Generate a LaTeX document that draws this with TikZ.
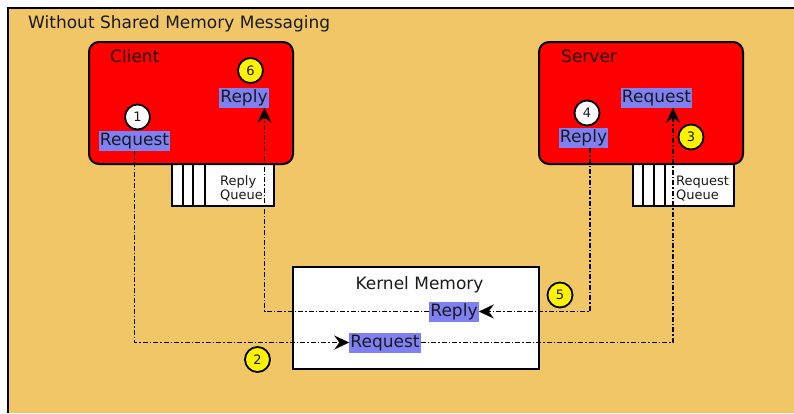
\documentclass[tikz,border=0pt]{standalone}
\usepackage{fontspec}
\setmainfont{DejaVu Sans}
\usetikzlibrary{arrows.meta}

\definecolor{panelbg}{RGB}{240,198,102}
\definecolor{procred}{RGB}{255,0,0}
\definecolor{hilite}{RGB}{128,128,245}
\definecolor{ink}{RGB}{26,26,26}

\tikzset{
  bigfont/.style={font=\fontsize{17}{20}\selectfont},
  smallfont/.style={font=\fontsize{13}{15}\selectfont},
  plain/.style={text=ink, inner sep=0pt},
  process/.style={draw=black, line width=2pt, fill=procred, rounded corners=10pt},
  msg/.style={fill=hilite, text=ink, bigfont, inner xsep=1pt, inner ysep=1.5pt,
              text height=13pt, text depth=4pt},
  stepnum/.style={circle, draw=black, line width=1.8pt, minimum size=25pt,
                  inner sep=0pt, font=\fontsize{13}{15}\selectfont, text=ink},
  queuebox/.style={draw=black, line width=1.5pt, fill=white},
  flow/.style={draw=black, line width=1.8pt,
               dash pattern=on 5pt off 2pt on 1.5pt off 2pt},
  tip/.style={-{Stealth[length=15pt,width=14pt,inset=5pt]}}
}

\begin{document}
\begin{tikzpicture}[x=1pt,y=-1pt]
\useasboundingbox (0,0) rectangle (794,413);

% panel
\fill[panelbg] (8,8) rectangle (794,413);
\draw[line width=2pt] (8,413) -- (8,8) -- (794,8);
\node[plain, bigfont, anchor=base west] (title) at (28,28) {Without Shared Memory Messaging};

% message queues below the processes
\draw[queuebox] (172,164) rectangle (274,206);
\draw[line width=1.5pt] (183,164) -- (183,206) (193,164) -- (193,206) (205,164) -- (205,206);
\node[plain, smallfont, anchor=base west] (rq1) at (220,185) {Reply};
\node[plain, smallfont, anchor=base west] (rq2) at (220,199) {Queue};

\draw[queuebox] (633,164) rectangle (734,206);
\draw[line width=1.5pt] (643,164) -- (643,206) (654,164) -- (654,206) (665,164) -- (665,206);
\node[plain, smallfont, anchor=base west] (sq1) at (676,185) {Request};
\node[plain, smallfont, anchor=base west] (sq2) at (676,199) {Queue};

% processes
\draw[process] (89,42) rectangle (293,164);
\node[plain, bigfont, anchor=base west] (clientlbl) at (110,62) {Client};
\draw[process] (539,42) rectangle (743,164);
\node[plain, bigfont, anchor=base west] (serverlbl) at (561,62) {Server};

% kernel memory
\draw[draw=black, line width=2pt, fill=white] (293,267) rectangle (539,369);
\node[plain, bigfont, anchor=base] (kernellbl) at (419.5,289) {Kernel Memory};

% messages
\node[msg] (creq) at (134.5,141) {Request};
\node[msg] (crep) at (244,97.5) {Reply};
\node[msg] (sreq) at (656.5,97.5) {Request};
\node[msg] (srep) at (583.5,138) {Reply};
\node[msg] (kreq) at (385,342.5) {Request};
\node[msg] (krep) at (454,311.5) {Reply};

% message flow
\draw[flow, tip] (creq.south) |- (kreq.west);
\draw[flow, tip] (kreq.east) -| ([xshift=16.5pt]sreq.south);
\draw[flow, tip] ([xshift=6.5pt]srep.south) |- (krep.east);
\draw[flow, tip] (krep.west) -| ([xshift=20.5pt]crep.south);

% step numbers
\node[stepnum, fill=white]  (s1) at (137.5,117) {1};
\node[stepnum, fill=yellow] (s2) at (257.5,359.5) {2};
\node[stepnum, fill=yellow] (s3) at (691,137) {3};
\node[stepnum, fill=white]  (s4) at (587,113) {4};
\node[stepnum, fill=yellow] (s5) at (560,295) {5};
\node[stepnum, fill=yellow] (s6) at (250.5,70.5) {6};
\end{tikzpicture}
\end{document}
